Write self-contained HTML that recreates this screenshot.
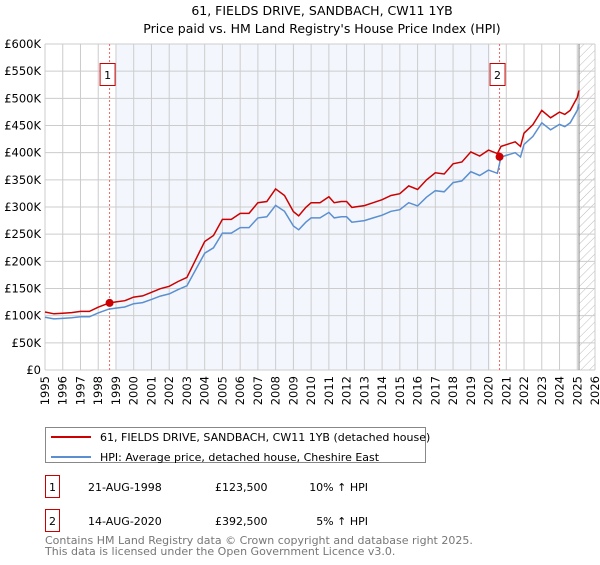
<!DOCTYPE html>
<html><head><meta charset="utf-8"><style>
body{margin:0;background:#fff;font-family:"Liberation Sans","DejaVu Sans",sans-serif;}
svg text{font-family:"DejaVu Sans","Liberation Sans",sans-serif;}
</style></head><body>
<svg id="c" width="600" height="560" xmlns="http://www.w3.org/2000/svg">
<text x="322" y="15" text-anchor="middle" font-size="12.5">61, FIELDS DRIVE, SANDBACH, CW11 1YB</text>
<text x="322" y="33" text-anchor="middle" font-size="12.5">Price paid vs. HM Land Registry's House Price Index (HPI)</text>
<g id="plot"></g>
<g>
<rect x="45.5" y="427.5" width="380" height="35" fill="#fff" stroke="#888"/>
<line x1="51" y1="437" x2="91" y2="437" stroke="#cc0000" stroke-width="2"/>
<text x="100" y="441" font-size="11">61, FIELDS DRIVE, SANDBACH, CW11 1YB (detached house)</text>
<line x1="51" y1="457" x2="91" y2="457" stroke="#5b8fd0" stroke-width="2"/>
<text x="100" y="461" font-size="11">HPI: Average price, detached house, Cheshire East</text>
</g>
<g font-size="11">
<rect x="45.5" y="475.5" width="14" height="22" fill="#fff" stroke="#cc0000"/>
<text x="52.5" y="491" text-anchor="middle">1</text>
<text x="88" y="491">21-AUG-1998</text><text x="215" y="491">£123,500</text><text x="368" y="491" text-anchor="end">10% ↑ HPI</text>
<rect x="45.5" y="509.5" width="14" height="22" fill="#fff" stroke="#cc0000"/>
<text x="52.5" y="525" text-anchor="middle">2</text>
<text x="88" y="525">14-AUG-2020</text><text x="215" y="525">£392,500</text><text x="368" y="525" text-anchor="end">5% ↑ HPI</text>
</g>
<text x="45" y="544" font-size="11" fill="#777">Contains HM Land Registry data © Crown copyright and database right 2025.</text>
<text x="45" y="555" font-size="11" fill="#777">This data is licensed under the Open Government Licence v3.0.</text>
</svg>
<script>
const hpiYears=[1995,1995.5,1996,1996.5,1997,1997.5,1998,1998.6,1999,1999.5,2000,2000.5,2001,2001.5,2002,2002.5,2003,2003.5,2004,2004.5,2005,2005.5,2006,2006.5,2007,2007.5,2008,2008.5,2009,2009.3,2009.7,2010,2010.5,2011,2011.3,2011.7,2012,2012.3,2013,2013.5,2014,2014.5,2015,2015.5,2016,2016.5,2017,2017.5,2018,2018.5,2019,2019.5,2020,2020.5,2020.7,2021,2021.5,2021.8,2022,2022.5,2023,2023.5,2024,2024.3,2024.6,2025,2025.1];
const hpiValues=[97,94,95,96,98,98,105,112,114,116,122,124,130,136,140,148,155,185,215,225,252,252,262,262,280,282,303,292,265,258,272,280,280,290,280,282,282,272,275,280,285,292,295,308,302,318,330,328,345,348,365,358,368,362,392,395,400,392,415,430,455,442,452,448,455,478,490];
const saleYears=[1998.64,2020.62];
const salePrices=[123.5,392.5];
const saleLabels=["1","2"];
const yTicks=[0,50,100,150,200,250,300,350,400,450,500,550,600];
const yTickLabels=["£0","£50K","£100K","£150K","£200K","£250K","£300K","£350K","£400K","£450K","£500K","£550K","£600K"];
const xTicks=[1995,1996,1997,1998,1999,2000,2001,2002,2003,2004,2005,2006,2007,2008,2009,2010,2011,2012,2013,2014,2015,2016,2017,2018,2019,2020,2021,2022,2023,2024,2025,2026];
const ratioBefore=1.1, ratioAfter=1.05;
const NS="http://www.w3.org/2000/svg";
const X0=45,X1=595,Y0=370,Y1=44;
const xs=v=>X0+(v-1995)/(2026-1995)*(X1-X0);
const ys=v=>Y0-v/600*(Y0-Y1);
const g=document.getElementById('plot');
function mk(t,a){const e=document.createElementNS(NS,t);for(const k in a)e.setAttribute(k,a[k]);g.appendChild(e);return e;}
let e=mk('rect',{x:xs(1999),y:Y1,width:xs(2020.1)-xs(1999),height:Y0-Y1,fill:'#eef3fc',opacity:0.7});

const defs=document.createElementNS(NS,'defs');defs.innerHTML='<pattern id="h" width="6" height="6" patternUnits="userSpaceOnUse" patternTransform="rotate(45)"><line x1="0" y1="0" x2="0" y2="6" stroke="#bbb" stroke-width="1"/></pattern>';g.appendChild(defs);
e=mk('rect',{x:xs(2025.1),y:Y1,width:X1-xs(2025.1),height:Y0-Y1,fill:'url(#h)'});

yTicks.forEach((v,i)=>{let l=mk('line',{x1:X0,x2:X1,y1:ys(v),y2:ys(v),stroke:'#ccc'});

let t=mk('text',{x:X0-4,y:ys(v)+4,'text-anchor':'end','font-size':11.5});t.textContent=yTickLabels[i];
});
xTicks.forEach(v=>{let l=mk('line',{x1:xs(v),x2:xs(v),y1:Y1,y2:Y0,stroke:'#ccc'});

let t=mk('text',{x:0,y:0,'text-anchor':'end','font-size':11.5,transform:`translate(${xs(v)+4},${Y0+6}) rotate(-90)`});t.textContent=v;
});
e=mk('line',{x1:xs(2025.1),x2:xs(2025.1),y1:Y1,y2:Y0,stroke:'#888'});

saleYears.forEach(v=>{let l=mk('line',{x1:xs(v),x2:xs(v),y1:Y1,y2:Y0,stroke:'#e66','stroke-dasharray':'2,2'});
});
const hp=hpiYears.map((y,i)=>xs(y).toFixed(1)+','+ys(hpiValues[i]).toFixed(1)).join(' ');
e=mk('polyline',{points:hp,fill:'none',stroke:'#5b8fd0','stroke-width':1.5});

const rp=hpiYears.map((y,i)=>{const r=y<saleYears[1]?ratioBefore:ratioAfter;return xs(y).toFixed(1)+','+ys(hpiValues[i]*r).toFixed(1);}).join(' ');
e=mk('polyline',{points:rp,fill:'none',stroke:'#cc0000','stroke-width':1.5});

saleYears.forEach((v,i)=>{let c=mk('circle',{cx:xs(v),cy:ys(salePrices[i]),r:4,fill:'#cc0000'});

let b=mk('rect',{x:xs(v)-9.5,y:63.5,width:15,height:22,fill:'#fff',stroke:'#cc0000'});

let t=mk('text',{x:xs(v)-2,y:79,'text-anchor':'middle','font-size':11});t.textContent=saleLabels[i];
});
</script>
</body></html>
